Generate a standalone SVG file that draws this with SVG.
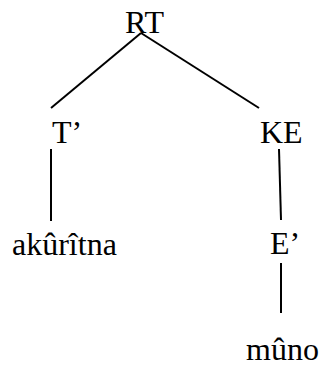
<svg xmlns="http://www.w3.org/2000/svg" width="320" height="367" viewBox="0 0 320 367">
<style>
text{font-family:"Liberation Serif","Times New Roman",serif;font-size:32px;fill:#000}
.e{stroke:#000;stroke-width:2;fill:none}
</style>
<rect width="320" height="367" fill="#fff"/>
<g id="edges">
<line class="e" x1="141" y1="33" x2="51" y2="108"/>
<line class="e" x1="141" y1="33" x2="259" y2="108"/>
<line class="e" x1="51" y1="149" x2="51" y2="221"/>
<line class="e" x1="279" y1="149" x2="281" y2="220"/>
<line class="e" x1="281" y1="263" x2="281" y2="313"/>
</g>
<g id="RT"><text x="125" y="33">RT</text></g>
<g id="T"><text x="52" y="143">T’</text></g>
<g id="KE"><text x="260" y="143">KE</text></g>
<g id="akuritna"><text x="12" y="255">akûrîtna</text></g>
<g id="E"><text x="270" y="254">E’</text></g>
<g id="muno"><text x="246" y="360">mûno</text></g>
</svg>
